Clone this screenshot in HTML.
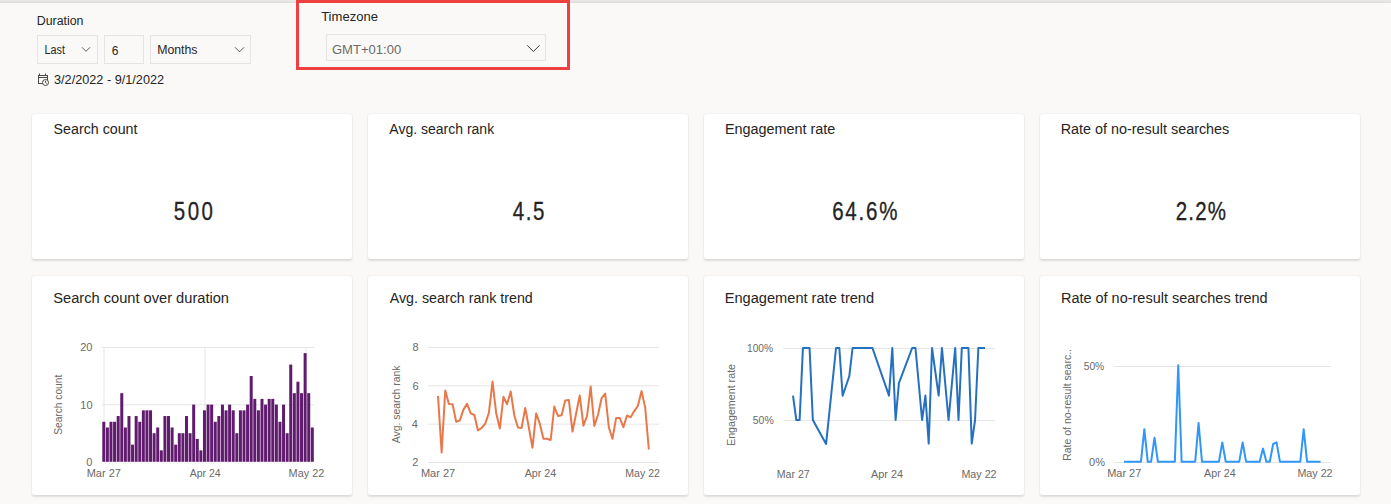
<!DOCTYPE html>
<html><head><meta charset="utf-8">
<style>
html,body{margin:0;padding:0;}
body{width:1391px;height:504px;overflow:hidden;background:#faf9f8;position:relative;font-family:"Liberation Sans",sans-serif;}
.topbar{position:absolute;left:0;top:0;width:1391px;height:3px;background:linear-gradient(#ebeae8 0,#e7e6e4 1px,#e0dfdd 2px,#e0dfdd 3px);}
.card{position:absolute;background:#fff;border-radius:2px;box-shadow:0 1.5px 2px rgba(0,0,0,0.11),0 0 1.5px rgba(0,0,0,0.10);}
svg{position:absolute;left:0;top:0;}
</style></head>
<body>
<div class="topbar"></div>
<div class="card" style="left:32px;top:114px;width:320px;height:145px"></div>
<div class="card" style="left:368px;top:114px;width:320px;height:145px"></div>
<div class="card" style="left:704px;top:114px;width:320px;height:145px"></div>
<div class="card" style="left:1040px;top:114px;width:320px;height:145px"></div>
<div class="card" style="left:32px;top:276px;width:320px;height:219px"></div>
<div class="card" style="left:368px;top:276px;width:320px;height:219px"></div>
<div class="card" style="left:704px;top:276px;width:320px;height:219px"></div>
<div class="card" style="left:1040px;top:276px;width:320px;height:219px"></div>
<svg width="1391" height="504" viewBox="0 0 1391 504" font-family="Liberation Sans, sans-serif">
<rect x="37.5" y="35.5" width="60" height="28" fill="none" stroke="#e6e4e2"/>
<polyline points="82,47.3 86,51.3 90,47.3" fill="none" stroke="#4a4846" stroke-width="0.9"/>
<rect x="104.5" y="35.5" width="39" height="28" fill="none" stroke="#e6e4e2"/>
<rect x="150.5" y="35.5" width="100" height="28" fill="none" stroke="#e6e4e2"/>
<polyline points="235,47.3 239.5,51.8 244,47.3" fill="none" stroke="#4a4846" stroke-width="0.9"/>
<g fill="none" stroke="#4a4846" stroke-width="1">
<rect x="38.5" y="75.5" width="9" height="8"/>
<line x1="38.5" y1="77.5" x2="47.5" y2="77.5"/>
<line x1="39.5" y1="73.5" x2="39.5" y2="75.5"/>
<line x1="45.5" y1="73.5" x2="45.5" y2="75.5"/>
<circle cx="45.5" cy="82.5" r="3" fill="#faf9f8"/>
<polyline points="45.5,80.8 45.5,82.5 46.7,83.5"/>
</g>
<rect x="297.5" y="1.5" width="271" height="67" fill="none" stroke="#ef4040" stroke-width="3"/>
<rect x="326.5" y="34.5" width="219" height="26" fill="none" stroke="#e6e4e2"/>
<polyline points="527.2,45.3 533.4,51.5 539.6,45.3" fill="none" stroke="#3b3a39" stroke-width="1"/>

<g stroke="#e6e6e6" stroke-width="1">
<line x1="102" y1="347.5" x2="314" y2="347.5"/>
<line x1="102" y1="404.75" x2="314" y2="404.75"/>
<line x1="104" y1="347" x2="104" y2="462"/>
<line x1="205" y1="347" x2="205" y2="462"/>
<line x1="306" y1="347" x2="306" y2="462"/>
<line x1="428" y1="347.5" x2="659" y2="347.5"/>
<line x1="428" y1="385.83" x2="659" y2="385.83"/>
<line x1="428" y1="424.17" x2="659" y2="424.17"/>
<line x1="428" y1="462.5" x2="659" y2="462.5"/>
<line x1="783" y1="348.5" x2="995" y2="348.5"/>
<line x1="783" y1="420.5" x2="995" y2="420.5"/>
<line x1="1114" y1="366.5" x2="1331" y2="366.5"/>
<line x1="1114" y1="462.5" x2="1331" y2="462.5"/>
</g>
<g fill="#611b6e"><rect x="102.30" y="421.76" width="3.0" height="40.04"/><rect x="105.89" y="427.48" width="3.0" height="34.32"/><rect x="109.49" y="421.76" width="3.0" height="40.04"/><rect x="113.08" y="421.76" width="3.0" height="40.04"/><rect x="116.68" y="416.04" width="3.0" height="45.76"/><rect x="120.27" y="393.16" width="3.0" height="68.64"/><rect x="123.87" y="427.48" width="3.0" height="34.32"/><rect x="127.47" y="416.04" width="3.0" height="45.76"/><rect x="131.06" y="444.64" width="3.0" height="17.16"/><rect x="134.66" y="416.04" width="3.0" height="45.76"/><rect x="138.25" y="421.76" width="3.0" height="40.04"/><rect x="141.85" y="410.32" width="3.0" height="51.48"/><rect x="145.44" y="410.32" width="3.0" height="51.48"/><rect x="149.04" y="410.32" width="3.0" height="51.48"/><rect x="152.63" y="433.20" width="3.0" height="28.60"/><rect x="156.23" y="427.48" width="3.0" height="34.32"/><rect x="159.82" y="450.36" width="3.0" height="11.44"/><rect x="163.42" y="416.04" width="3.0" height="45.76"/><rect x="167.01" y="416.04" width="3.0" height="45.76"/><rect x="170.61" y="427.48" width="3.0" height="34.32"/><rect x="174.20" y="444.64" width="3.0" height="17.16"/><rect x="177.80" y="433.20" width="3.0" height="28.60"/><rect x="181.39" y="433.20" width="3.0" height="28.60"/><rect x="184.99" y="416.04" width="3.0" height="45.76"/><rect x="188.58" y="433.20" width="3.0" height="28.60"/><rect x="192.18" y="404.60" width="3.0" height="57.20"/><rect x="195.77" y="438.92" width="3.0" height="22.88"/><rect x="199.37" y="450.36" width="3.0" height="11.44"/><rect x="202.96" y="410.32" width="3.0" height="51.48"/><rect x="206.56" y="404.60" width="3.0" height="57.20"/><rect x="210.15" y="404.60" width="3.0" height="57.20"/><rect x="213.75" y="421.76" width="3.0" height="40.04"/><rect x="217.34" y="416.04" width="3.0" height="45.76"/><rect x="220.94" y="404.60" width="3.0" height="57.20"/><rect x="224.53" y="410.32" width="3.0" height="51.48"/><rect x="228.12" y="404.60" width="3.0" height="57.20"/><rect x="231.72" y="410.32" width="3.0" height="51.48"/><rect x="235.32" y="433.20" width="3.0" height="28.60"/><rect x="238.91" y="410.32" width="3.0" height="51.48"/><rect x="242.51" y="410.32" width="3.0" height="51.48"/><rect x="246.10" y="404.60" width="3.0" height="57.20"/><rect x="249.70" y="376.00" width="3.0" height="85.80"/><rect x="253.29" y="398.88" width="3.0" height="62.92"/><rect x="256.89" y="410.32" width="3.0" height="51.48"/><rect x="260.48" y="398.88" width="3.0" height="62.92"/><rect x="264.07" y="404.60" width="3.0" height="57.20"/><rect x="267.67" y="398.88" width="3.0" height="62.92"/><rect x="271.27" y="398.88" width="3.0" height="62.92"/><rect x="274.86" y="404.60" width="3.0" height="57.20"/><rect x="278.45" y="421.76" width="3.0" height="40.04"/><rect x="282.05" y="404.60" width="3.0" height="57.20"/><rect x="285.65" y="433.20" width="3.0" height="28.60"/><rect x="289.24" y="364.56" width="3.0" height="97.24"/><rect x="292.83" y="393.16" width="3.0" height="68.64"/><rect x="296.43" y="381.72" width="3.0" height="80.08"/><rect x="300.03" y="393.16" width="3.0" height="68.64"/><rect x="303.62" y="353.12" width="3.0" height="108.68"/><rect x="307.22" y="393.16" width="3.0" height="68.64"/><rect x="310.81" y="427.48" width="3.0" height="34.32"/></g>
<polyline points="438.00,395.9 441.63,452.5 445.27,390.5 448.90,403.9 452.54,404.3 456.18,421.8 459.81,420.4 463.44,409.6 467.08,403.9 470.71,413.4 474.35,415 477.99,430.4 481.62,428 485.25,423.6 488.89,412.9 492.52,381.6 496.16,412.9 499.80,428.6 503.43,396.8 507.06,404.3 510.70,391.4 514.34,415.5 517.97,427.5 521.61,428 525.24,407.9 528.88,427.8 532.51,447.7 536.14,413.4 539.78,423.6 543.41,438.8 547.05,438.8 550.68,440 554.32,406.6 557.96,416 561.59,415.2 565.23,400.4 568.86,400 572.50,431.6 576.13,413.5 579.76,395.5 583.40,425.7 587.03,416 590.67,386.6 594.30,425.9 597.94,415 601.58,398.2 605.21,393.6 608.85,427.5 612.48,438.8 616.12,417.9 619.75,417.9 623.38,427.1 627.02,415.5 630.65,417.3 634.29,411.1 637.92,405.7 641.56,391.1 645.19,407.5 648.83,449.5" fill="none" stroke="#e8784a" stroke-width="2" stroke-linejoin="round"/>
<polyline points="793.00,395.6 796.31,420 799.62,420 802.93,348 806.24,348 809.55,348 812.86,420 826.10,443.9 836.03,348 839.34,348 842.65,395.7 849.27,376.3 852.58,348 872.44,348 888.99,395.6 892.30,348 895.61,420 898.92,383.2 912.16,348 915.47,348 922.09,420 925.40,395.6 928.71,443.6 932.02,348 938.64,395.6 941.95,348 948.57,420 955.19,348 958.50,420 961.81,348 968.43,348 971.74,443.6 975.05,420 978.36,348 984.98,348" fill="none" stroke="#2570c0" stroke-width="2" stroke-linejoin="round"/>
<polyline points="1124.00,461.7 1140.95,461.7 1144.34,429.2 1147.73,461.7 1151.12,461.7 1154.51,437.7 1157.90,461.7 1174.85,461.7 1178.24,365.3 1181.63,461.7 1195.19,461.7 1198.58,423 1201.97,461.7 1218.92,461.7 1222.31,442.4 1225.70,461.7 1239.26,461.7 1242.65,442.4 1246.04,461.7 1259.60,461.7 1262.99,448.6 1266.38,461.7 1269.77,461.7 1273.16,444 1276.55,442.4 1279.94,461.7 1300.28,461.7 1303.67,429.2 1307.06,461.7 1320.62,461.7" fill="none" stroke="#3097f8" stroke-width="2" stroke-linejoin="round"/>
<text id="t_dur" x="36.70" y="25.00" font-size="12" fill="#252423" textLength="46.80" lengthAdjust="spacingAndGlyphs">Duration</text>
<text id="t_last" x="44.55" y="54.00" font-size="12" fill="#252423" textLength="20.42" lengthAdjust="spacingAndGlyphs">Last</text>
<text id="t_6" x="111.80" y="55.00" font-size="12" fill="#252423">6</text>
<text id="t_months" x="157.15" y="54.00" font-size="12" fill="#252423" textLength="40.33" lengthAdjust="spacingAndGlyphs">Months</text>
<text id="t_date" x="54.00" y="84.00" font-size="12" fill="#252423" textLength="110.10" lengthAdjust="spacingAndGlyphs">3/2/2022 - 9/1/2022</text>
<text id="t_tz" x="321.15" y="21.00" font-size="12" fill="#252423" textLength="56.77" lengthAdjust="spacingAndGlyphs">Timezone</text>
<text id="t_gmt" x="331.95" y="54.00" font-size="12" fill="#6b6967" textLength="69.26" lengthAdjust="spacingAndGlyphs">GMT+01:00</text>
<text id="k1" x="53.60" y="134.00" font-size="14" fill="#252423" textLength="83.91" lengthAdjust="spacingAndGlyphs">Search count</text>
<text id="k2" x="389.35" y="134.00" font-size="14" fill="#252423">Avg. search rank</text>
<text id="k3" x="724.90" y="134.00" font-size="14" fill="#252423" textLength="110.46" lengthAdjust="spacingAndGlyphs">Engagement rate</text>
<text id="k4" x="1060.70" y="134.00" font-size="14" fill="#252423" textLength="168.62" lengthAdjust="spacingAndGlyphs">Rate of no-result searches</text>
<text id="c1" x="53.25" y="302.70" font-size="14" fill="#252423" textLength="175.77" lengthAdjust="spacingAndGlyphs">Search count over duration</text>
<text id="c2" x="389.75" y="302.70" font-size="14" fill="#252423" textLength="143.03" lengthAdjust="spacingAndGlyphs">Avg. search rank trend</text>
<text id="c3" x="724.75" y="302.70" font-size="14" fill="#252423" textLength="149.37" lengthAdjust="spacingAndGlyphs">Engagement rate trend</text>
<text id="c4" x="1060.95" y="302.70" font-size="14" fill="#252423" textLength="206.73" lengthAdjust="spacingAndGlyphs">Rate of no-result searches trend</text>
<text id="v1" transform="translate(194.65,220.00) scale(0.82,1)" text-anchor="middle" letter-spacing="3.033" font-size="25" fill="#252423" stroke="#252423" stroke-width="0.3">500</text>
<text id="v2" transform="translate(529.40,220.00) scale(0.82,1)" text-anchor="middle" letter-spacing="1.894" font-size="25" fill="#252423" stroke="#252423" stroke-width="0.3">4.5</text>
<text id="v3" transform="translate(865.75,220.00) scale(0.82,1)" text-anchor="middle" letter-spacing="2.220" font-size="25" fill="#252423" stroke="#252423" stroke-width="0.3">64.6%</text>
<text id="v4" transform="translate(1201.40,220.00) scale(0.82,1)" text-anchor="middle" letter-spacing="1.427" font-size="25" fill="#252423" stroke="#252423" stroke-width="0.3">2.2%</text>
<text id="a1" x="80.20" y="351.00" font-size="11" fill="#6b6967">20</text>
<text id="a2" x="80.30" y="408.50" font-size="11" fill="#6b6967">10</text>
<text id="a3" x="86.20" y="466.00" font-size="11" fill="#6b6967">0</text>
<text id="a4" x="86.65" y="477.00" font-size="11" fill="#6b6967">Mar 27</text>
<text id="a5" x="189.75" y="477.00" font-size="11" fill="#6b6967" textLength="30.90" lengthAdjust="spacingAndGlyphs">Apr 24</text>
<text id="a6" x="288.60" y="477.00" font-size="11" fill="#6b6967" textLength="35.70" lengthAdjust="spacingAndGlyphs">May 22</text>
<text id="b1" x="412.55" y="351.00" font-size="11" fill="#6b6967">8</text>
<text id="b2" x="412.55" y="389.50" font-size="11" fill="#6b6967">6</text>
<text id="b3" x="411.80" y="428.00" font-size="11" fill="#6b6967">4</text>
<text id="b4" x="412.25" y="466.00" font-size="11" fill="#6b6967">2</text>
<text id="b5" x="420.90" y="477.00" font-size="11" fill="#6b6967">Mar 27</text>
<text id="b6" x="524.65" y="477.00" font-size="11" fill="#6b6967" textLength="31.52" lengthAdjust="spacingAndGlyphs">Apr 24</text>
<text id="b7" x="625.30" y="477.00" font-size="11" fill="#6b6967" textLength="34.64" lengthAdjust="spacingAndGlyphs">May 22</text>
<text id="e1" x="747.00" y="352.00" font-size="11" fill="#6b6967" textLength="26.06" lengthAdjust="spacingAndGlyphs">100%</text>
<text id="e2" x="752.80" y="424.00" font-size="11" fill="#6b6967" textLength="20.90" lengthAdjust="spacingAndGlyphs">50%</text>
<text id="e3" x="776.80" y="478.00" font-size="11" fill="#6b6967" textLength="32.84" lengthAdjust="spacingAndGlyphs">Mar 27</text>
<text id="e4" x="871.05" y="478.00" font-size="11" fill="#6b6967" textLength="31.99" lengthAdjust="spacingAndGlyphs">Apr 24</text>
<text id="e5" x="961.45" y="478.00" font-size="11" fill="#6b6967" textLength="35.15" lengthAdjust="spacingAndGlyphs">May 22</text>
<text id="n1" x="1083.70" y="370.00" font-size="11" fill="#6b6967" textLength="20.56" lengthAdjust="spacingAndGlyphs">50%</text>
<text id="n2" x="1089.10" y="466.00" font-size="11" fill="#6b6967">0%</text>
<text id="n3" x="1107.20" y="477.00" font-size="11" fill="#6b6967" textLength="34.11" lengthAdjust="spacingAndGlyphs">Mar 27</text>
<text id="n4" x="1204.10" y="477.00" font-size="11" fill="#6b6967" textLength="31.50" lengthAdjust="spacingAndGlyphs">Apr 24</text>
<text id="n5" x="1297.45" y="477.00" font-size="11" fill="#6b6967" textLength="35.15" lengthAdjust="spacingAndGlyphs">May 22</text>
<text id="r1" transform="translate(62.40,434.80) rotate(-90)" font-size="11" fill="#6b6967" textLength="60.08" lengthAdjust="spacingAndGlyphs">Search count</text>
<text id="r2" transform="translate(400.20,443.20) rotate(-90)" font-size="11" fill="#6b6967" textLength="77.65" lengthAdjust="spacingAndGlyphs">Avg. search rank</text>
<text id="r3" transform="translate(735.00,446.00) rotate(-90)" font-size="11" fill="#6b6967" textLength="82.05" lengthAdjust="spacingAndGlyphs">Engagement rate</text>
<text id="r4" transform="translate(1071.20,460.80) rotate(-90)" font-size="11" fill="#6b6967" textLength="111.80" lengthAdjust="spacingAndGlyphs">Rate of no-result searc..</text>
</svg>
</body></html>
